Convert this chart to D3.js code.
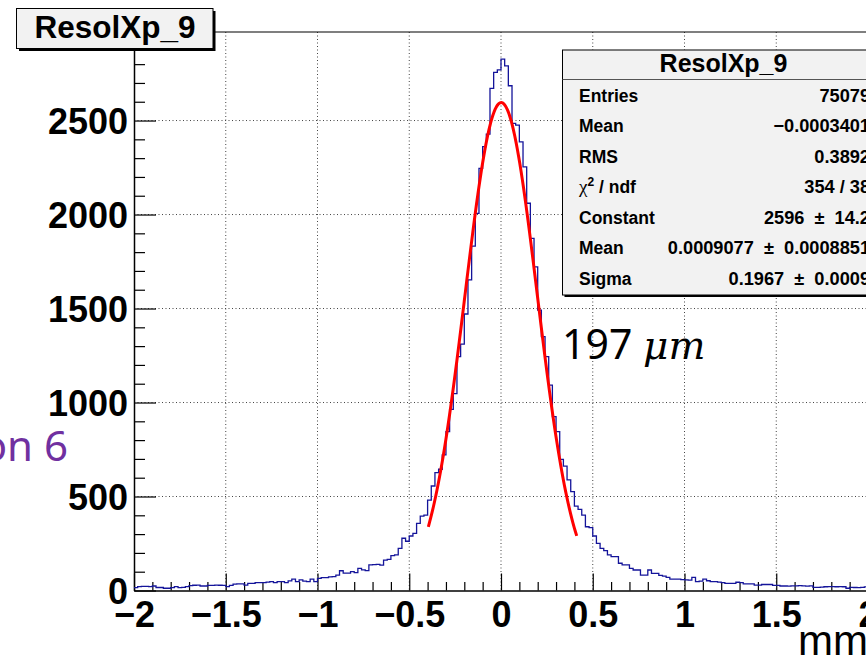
<!DOCTYPE html>
<html>
<head>
<meta charset="utf-8">
<script src="https://cdn.jsdelivr.net/npm/d3@7"></script>
<style>
  body { margin: 0; background: #fff; }
  svg { display: block; }
</style>
</head>
<body>
<div id="chart"></div>
<script>
// histogram ResolXp_9, 200 bins from -2 to 2
const histName = "ResolXp_9"
const xMin = -2, xMax = 2, nBins = 200
const counts = [
  15, 21, 22, 22, 21, 24, 16, 16, 12, 12, 15, 21, 15, 17, 21, 26, 28, 29, 24, 24,
  27, 27, 29, 28, 27, 21, 27, 34, 35, 35, 29, 38, 38, 42, 42, 42, 45, 47, 42, 47,
  47, 42, 51, 60, 47, 56, 50, 47, 60, 47, 65, 68, 68, 72, 74, 82, 105, 92, 92, 100,
  95, 118, 110, 106, 136, 138, 139, 135, 162, 166, 185, 190, 224, 278, 262, 290, 304, 357, 396, 401,
  481, 556, 627, 645, 721, 845, 964, 1047, 1244, 1311, 1471, 1652, 1832, 2006, 2246, 2361, 2428, 2671, 2756, 2769,
  2827, 2791, 2685, 2485, 2476, 2387, 2254, 2060, 1873, 1722, 1492, 1350, 1244, 1093, 925, 845, 698, 662, 588, 526,
  449, 432, 401, 339, 334, 290, 251, 224, 212, 189, 180, 180, 145, 136, 136, 118, 109, 109, 82, 82,
  109, 91, 91, 80, 77, 70, 60, 60, 60, 58, 56, 55, 70, 47, 50, 60, 52, 47, 47, 45,
  42, 38, 38, 38, 44, 42, 35, 35, 35, 29, 29, 32, 32, 32, 27, 27, 24, 24, 23, 25,
  25, 26, 25, 23, 25, 17, 17, 18, 20, 21, 21, 20, 21, 20, 12, 17, 16, 15, 17, 19
]
const xTicks = [-2, -1.5, -1, -0.5, 0, 0.5, 1, 1.5, 2]
const xTickLabels = ["\u22122", "\u22121.5", "\u22121", "\u22120.5", "0", "0.5", "1", "1.5", "2"]
const yTicks = [0, 500, 1000, 1500, 2000, 2500]
const statLabels = ["Entries", "Mean", "RMS", "chi2", "Constant", "Mean", "Sigma"]
const statValues = ["75079", "\u22120.0003401", "0.3892", "354 / 38", "2596 \u00b1 14.2", "0.0009077 \u00b1 0.0008851", "0.1967 \u00b1 0.0009"]
// gaus fit result
const fitConstant = 2596, fitMean = 0.0009077, fitSigma = 0.1967
const fitRange = [-0.396, 0.4125]

const W = 866, H = 656
const rootFont = "'Liberation Sans', Arial, Helvetica, sans-serif"

const svg = d3.select("#chart").append("svg")
  .attr("width", W).attr("height", H)
  .style("background", "#fff")

const x = d3.scaleLinear().domain([xMin, xMax]).range([134, 868])
const y = d3.scaleLinear().domain([0, 2971]).range([590.5, 32])
const binW = (xMax - xMin) / nBins

// grid
svg.append("g").selectAll("line")
  .data(xTicks.slice(1, -1))
  .join("line")
  .attr("x1", d => x(d)).attr("x2", d => x(d))
  .attr("y1", y.range()[1]).attr("y2", y.range()[0])
  .attr("stroke", "#444").attr("stroke-width", 1)
  .attr("stroke-dasharray", "1,2.5")
svg.append("g").selectAll("line")
  .data(yTicks.slice(1))
  .join("line")
  .attr("x1", x.range()[0]).attr("x2", x.range()[1])
  .attr("y1", d => y(d)).attr("y2", d => y(d))
  .attr("stroke", "#444").attr("stroke-width", 1)
  .attr("stroke-dasharray", "1,2.5")

// frame top line
svg.append("line")
  .attr("x1", x.range()[0]).attr("x2", x.range()[1])
  .attr("y1", y.range()[1]).attr("y2", y.range()[1])
  .attr("stroke", "#000").attr("stroke-width", 1.2)

// minor ticks
const xMinor = d3.range(-20, 21).map(d => d / 10).filter(d => Math.abs(d * 2 - Math.round(d * 2)) > 1e-6)
const yMinor = d3.range(0, 30).map(d => d * 100).filter(d => d % 500 != 0)

svg.append("g")
  .attr("transform", `translate(0,${y(0)})`)
  .call(d3.axisBottom(x).tickValues(xMinor).tickSizeInner(-8.5).tickSizeOuter(0).tickFormat(""))
  .call(g => g.select(".domain").remove())
  .selectAll("line").attr("stroke-width", 1.2)

svg.append("g")
  .attr("transform", `translate(${x(xMin)},0)`)
  .call(d3.axisLeft(y).tickValues(yMinor).tickSizeInner(-11).tickSizeOuter(0).tickFormat(""))
  .call(g => g.select(".domain").remove())
  .selectAll("line").attr("stroke-width", 1.2)

// major axes
const xAxis = svg.append("g")
  .attr("transform", `translate(0,${y(0)})`)
  .call(d3.axisBottom(x).tickValues(xTicks).tickSizeInner(-17).tickSizeOuter(0)
    .tickFormat((d, i) => xTickLabels[i]))
xAxis.select(".domain").attr("stroke-width", 1.5)
xAxis.selectAll("line").attr("stroke-width", 1.2)
xAxis.selectAll("text")
  .attr("y", 36.5).attr("dy", null)
  .attr("fill", "#000")
  .style("font-family", rootFont).style("font-weight", "bold").style("font-size", "36px")

const yAxis = svg.append("g")
  .attr("transform", `translate(${x(xMin)},0)`)
  .call(d3.axisLeft(y).tickValues(yTicks).tickSizeInner(-22).tickSizeOuter(0).tickPadding(6)
    .tickFormat(d3.format("d")))
yAxis.select(".domain").attr("stroke-width", 1.5)
yAxis.selectAll("line").attr("stroke-width", 1.2)
yAxis.selectAll("text")
  .attr("dy", "0.36em")
  .attr("fill", "#000")
  .style("font-family", rootFont).style("font-weight", "bold").style("font-size", "36px")

// histogram outline
const histPts = counts.map((c, i) => [xMin + i * binW, c])
histPts.push([xMax, counts[counts.length - 1]])
svg.append("path")
  .datum(histPts)
  .attr("d", d3.line().x(d => x(d[0])).y(d => y(d[1])).curve(d3.curveStepAfter))
  .attr("fill", "none")
  .attr("stroke", "#14149a")
  .attr("stroke-width", 1.3)

// fit curve
const fitPts = d3.range(0, 121).map(i => {
  const v = fitRange[0] + (fitRange[1] - fitRange[0]) * i / 120
  return [v, fitConstant * Math.exp(-0.5 * Math.pow((v - fitMean) / fitSigma, 2))]
})
svg.append("path")
  .datum(fitPts)
  .attr("d", d3.line().x(d => x(d[0])).y(d => y(d[1])).curve(d3.curveBasis))
  .attr("fill", "none")
  .attr("stroke", "#ff0000")
  .attr("stroke-width", 3)

// axis title
svg.append("text")
  .attr("x", 868).attr("y", 655)
  .attr("text-anchor", "end")
  .style("font-family", rootFont).style("font-size", "42px")
  .text("mm")

// annotations
const reso = svg.append("text")
  .attr("x", 562).attr("y", 359)
  .style("font-size", "41px")
reso.append("tspan").style("font-family", "'Noto Sans', 'Open Sans', sans-serif").text("197 ")
reso.append("tspan").style("font-family", "'DejaVu Serif', serif").style("font-style", "italic")
  .style("font-size", "39px").text("\u03bcm")

svg.append("text")
  .attr("x", 68).attr("y", 461)
  .attr("text-anchor", "end")
  .attr("fill", "#7030a0")
  .style("font-family", "'Noto Sans', 'Open Sans', sans-serif").style("font-size", "42px")
  .text("on 6")

// stats box
const box = { x: 562.5, y: 50, w: 322, h: 245 }
svg.append("rect")
  .attr("x", box.x + 2).attr("y", box.y + 2).attr("width", box.w).attr("height", box.h)
  .attr("fill", "#000")
svg.append("rect")
  .attr("x", box.x).attr("y", box.y).attr("width", box.w).attr("height", box.h)
  .attr("fill", "#f2f2f2").attr("stroke", "#000").attr("stroke-width", 1)
svg.append("line")
  .attr("x1", box.x).attr("x2", box.x + box.w)
  .attr("y1", 79.5).attr("y2", 79.5)
  .attr("stroke", "#555").attr("stroke-width", 1.2)
svg.append("text")
  .attr("x", box.x + box.w / 2).attr("y", 71.5)
  .attr("text-anchor", "middle")
  .style("font-family", rootFont).style("font-weight", "bold").style("font-size", "25px")
  .text(histName)

const rows = svg.append("g")
  .style("font-family", rootFont).style("font-weight", "bold").style("font-size", "17.5px")
rows.selectAll("text.lab")
  .data(statLabels)
  .join("text")
  .attr("class", "lab")
  .attr("x", 579).attr("y", (d, i) => 101.7 + i * 30.55)
  .each(function (d) {
    const t = d3.select(this)
    if (d == "chi2") {
      t.append("tspan").style("font-family", "'Liberation Serif', serif").style("font-weight", "normal")
        .style("font-size", "19px").text("\u03c7")
      t.append("tspan").attr("dy", -7).style("font-size", "12px").text("2")
      t.append("tspan").attr("dy", 7).text(" / ndf")
    } else {
      t.text(d)
    }
  })
rows.selectAll("text.val")
  .data(statValues)
  .join("text")
  .attr("class", "val")
  .attr("x", 870).attr("y", (d, i) => 101.7 + i * 30.55)
  .attr("text-anchor", "end")
  .attr("xml:space", "preserve")
  .style("font-size", "18.2px")
  .text(d => d.replace(" \u00b1 ", "  \u00b1  "))

// title box
svg.append("rect")
  .attr("x", 19).attr("y", 11).attr("width", 196.5).attr("height", 40)
  .attr("fill", "#000")
svg.append("rect")
  .attr("x", 16.5).attr("y", 8.5).attr("width", 196.5).attr("height", 40)
  .attr("fill", "#f2f2f2").attr("stroke", "#000").attr("stroke-width", 1)
svg.append("text")
  .attr("x", 115).attr("y", 37.5)
  .attr("text-anchor", "middle")
  .style("font-family", rootFont).style("font-weight", "bold").style("font-size", "31.5px")
  .text(histName)
</script>
</body>
</html>
